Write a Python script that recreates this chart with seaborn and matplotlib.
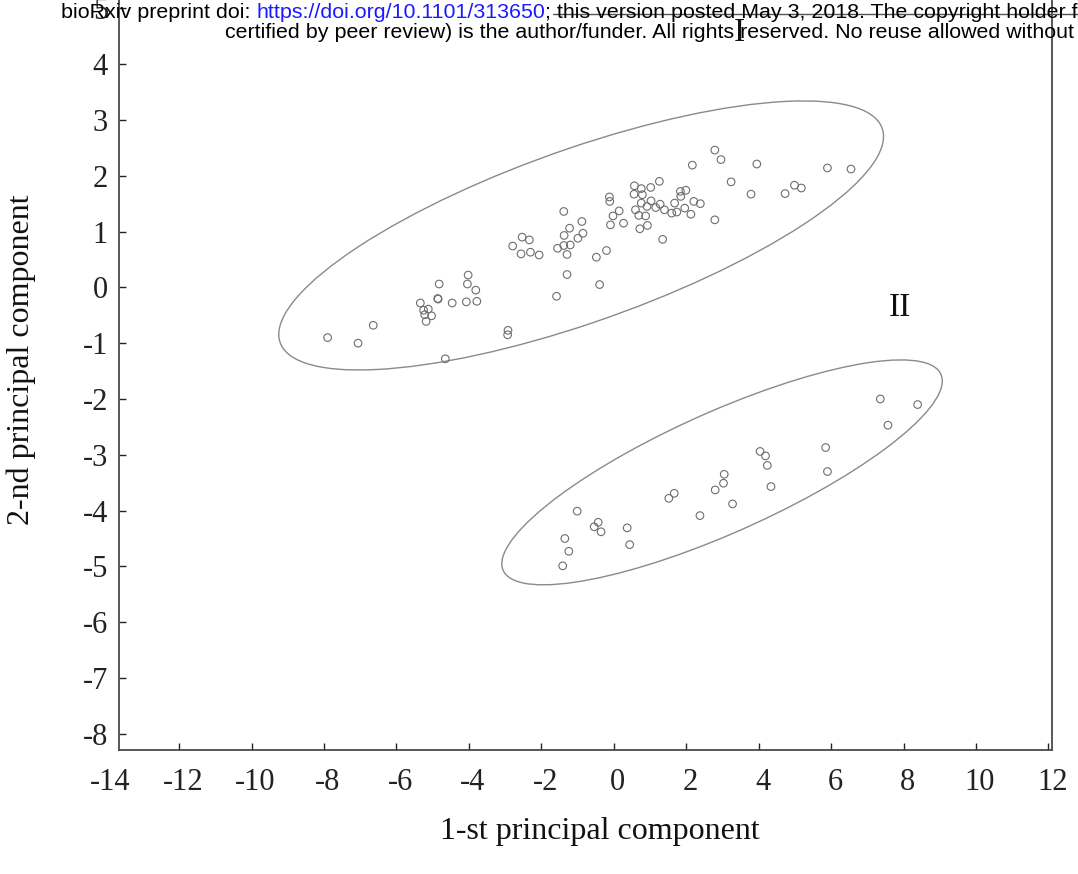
import numpy as np
import pandas as pd
import matplotlib
matplotlib.use("Agg")
import matplotlib.pyplot as plt
from matplotlib.patches import Ellipse
from matplotlib.lines import Line2D
from matplotlib.transforms import ScaledTranslation
import seaborn as sns

# ---------------- data ----------------
g1_x = [-7.90, -7.06, -6.64, -5.34, -5.12, -5.25, -5.22, -5.03, -5.18, -4.82,
        -4.86, -4.85, -4.46, -4.02, -4.04, -3.81, -4.07, -3.78, -4.65, -2.92,
        -2.93, -1.58, -0.39, -1.29, -2.79, -2.53, -2.33, -2.56, -2.30, -2.06,
        -1.55, -1.38, -1.20, -1.29, -1.37, -1.22, -0.88, -0.99, -0.85, -1.38,
        -0.48, -0.20, -0.12, -0.11, -0.02, 0.15, -0.09, 0.27, 0.57, 0.76,
        0.56, 0.79, 1.02, 1.26, 0.60, 0.76, 0.69, 0.88, 0.72, 0.93,
        1.03, 0.92, 1.16, 1.28, 1.40, 1.60, 1.74, 1.68, 1.84, 1.99,
        1.85, 1.96, 2.13, 2.21, 2.39, 1.35, 2.79, 2.17, 2.79, 2.96,
        3.24, 3.95, 3.79, 4.73, 4.99, 5.18, 5.90, 6.55]
g1_y = [-0.90, -1.00, -0.68, -0.28, -0.39, -0.41, -0.49, -0.51, -0.61, 0.06,
        -0.20, -0.21, -0.28, 0.22, 0.06, -0.05, -0.26, -0.25, -1.28, -0.77,
        -0.85, -0.16, 0.05, 0.23, 0.74, 0.90, 0.85, 0.60, 0.63, 0.58,
        0.70, 0.75, 0.76, 0.59, 0.93, 1.06, 1.18, 0.88, 0.97, 1.36,
        0.54, 0.66, 1.62, 1.54, 1.28, 1.37, 1.12, 1.15, 1.82, 1.77,
        1.67, 1.66, 1.79, 1.90, 1.39, 1.51, 1.29, 1.28, 1.05, 1.11,
        1.55, 1.45, 1.43, 1.49, 1.39, 1.33, 1.35, 1.51, 1.72, 1.74,
        1.63, 1.42, 1.31, 1.54, 1.50, 0.86, 1.21, 2.19, 2.46, 2.29,
        1.89, 2.21, 1.67, 1.68, 1.83, 1.78, 2.14, 2.12]

g2_x = [-1.01, -1.35, -1.24, -1.41, -0.43, -0.54, -0.35, 0.37, 0.44, 1.52,
        1.67, 2.38, 2.80, 3.03, 3.05, 3.28, 4.04, 4.19, 4.24, 4.34,
        5.85, 5.90, 7.36, 7.57, 8.39]
g2_y = [-4.01, -4.50, -4.73, -4.99, -4.21, -4.29, -4.38, -4.31, -4.61, -3.78,
        -3.69, -4.09, -3.63, -3.51, -3.35, -3.88, -2.94, -3.02, -3.19, -3.57,
        -2.87, -3.30, -2.00, -2.47, -2.10]

x_ticks = list(range(-14, 13, 2))
y_ticks = list(range(-8, 6))

cluster_names = ["I", "II"]
ellipse_centers = [(-0.90, 0.93), (2.99, -3.315)]
ellipse_covs = [[[69.7, 14.8], [14.8, 5.81]],
                [[36.97, 9.95], [9.95, 4.06]]]
cluster_label_xy = [(3.48, 4.57), (7.90, -0.36)]

x_label = "1-st principal component"
y_label = "2-nd principal component"

header_1a = "bioRxiv preprint doi: "
header_1b = "https://doi.org/10.1101/313650"
header_1c = "; this version posted May 3, 2018. The copyright holder for this preprint (which was not"
header_2 = "certified by peer review) is the author/funder. All rights reserved. No reuse allowed without permission."

# ---------------- figure ----------------
sns.set_theme(style="white")
plt.rcParams["font.family"] = ["Liberation Serif", "DejaVu Serif"]

W, H = 1078, 874
fig = plt.figure(figsize=(W / 100, H / 100), dpi=100)

left_px, right_px, bottom_px, top_px = 119, 1052, 750, -14
ax = fig.add_axes([left_px / W, (H - bottom_px) / H,
                   (right_px - left_px) / W, (bottom_px - top_px) / H])

df = pd.DataFrame({
    "pc1": g1_x + g2_x,
    "pc2": g1_y + g2_y,
    "cluster": ["I"] * len(g1_x) + ["II"] * len(g2_x),
})

sns.scatterplot(data=df, x="pc1", y="pc2", ax=ax, marker="o", s=30,
                facecolor="none", edgecolor="#6e6e6e", linewidth=0.8,
                legend=False, zorder=3)

for (cx, cy), cov in zip(ellipse_centers, ellipse_covs):
    vals, vecs = np.linalg.eigh(np.array(cov))
    ang = np.degrees(np.arctan2(vecs[1, 1], vecs[0, 1]))
    e = Ellipse((cx, cy), width=2 * np.sqrt(vals[1]), height=2 * np.sqrt(vals[0]),
                angle=ang, fill=False, edgecolor="#8a8a8a", linewidth=1.0, zorder=2)
    ax.add_patch(e)

for name, (lx, ly) in zip(cluster_names, cluster_label_xy):
    ax.text(lx, ly, name, fontsize=24, ha="center", va="center", color="#111111")

ax.set_xlim(-13.66, 12.1)
ax.set_ylim(-8.29, 5.4)
ax.set_xticks([t for t in x_ticks if t > -13.66])
ax.set_yticks(y_ticks)
ax.set_xticklabels([str(t) for t in x_ticks if t > -13.66])
ax.set_yticklabels([str(t) for t in y_ticks])

xpad = 13
ax.tick_params(axis="x", direction="in", length=5, width=1, pad=xpad,
               labelsize=22, colors="#222222", bottom=True, top=False)
ax.tick_params(axis="y", direction="in", length=5, width=1, pad=8,
               labelsize=22, colors="#222222", left=True, right=False)
for side in ["left", "bottom", "right", "top"]:
    ax.spines[side].set_visible(True)
    ax.spines[side].set_color("#4a4a4a")
    ax.spines[side].set_linewidth(1.3)

# x tick labels sit slightly right of their ticks in the original
shift = ScaledTranslation(4 / 100, 0, fig.dpi_scale_trans)
for lab in ax.get_xticklabels():
    lab.set_transform(lab.get_transform() + shift)

# tick label for -14 that lies just left of the frame
ax.annotate(str(x_ticks[0]), xy=(x_ticks[0], 0), xycoords=("data", "axes fraction"),
            xytext=(4 * 0.72, -xpad), textcoords="offset points", ha="center", va="top",
            fontsize=22, color="#222222", annotation_clip=False)

ax.set_xlabel(x_label, fontsize=23, color="#111111")
ax.set_ylabel(y_label, fontsize=23, color="#111111")
ax.xaxis.label.set_va("center")
ax.yaxis.label.set_va("center")
ax.xaxis.set_label_coords((600 - left_px) / (right_px - left_px),
                          (bottom_px - 832) / (bottom_px - top_px))
ax.yaxis.set_label_coords((21 - left_px) / (right_px - left_px),
                          (bottom_px - 360) / (bottom_px - top_px))

# ---------------- header ----------------
r = fig.canvas.get_renderer()
hfont = dict(family=["Liberation Sans", "DejaVu Sans"], fontsize=15.4, va="center")
t1 = fig.text(61 / W, 1 - 13 / H, header_1a, color="black", **hfont)
bb = t1.get_window_extent(renderer=r)
t2 = fig.text(bb.x1 / W, 1 - 13 / H, header_1b, color="#1a1aff", **hfont)
bb = t2.get_window_extent(renderer=r)
fig.text(bb.x1 / W, 1 - 13 / H, header_1c, color="black", **hfont)
fig.text(225 / W, 1 - 33 / H, header_2, color="black", **hfont)
fig.add_artist(Line2D([553 / W, 1.0], [1 - 14 / H, 1 - 14 / H],
                      transform=fig.transFigure, color="#555555", linewidth=1.0))

fig.savefig("out.png", dpi=100)
